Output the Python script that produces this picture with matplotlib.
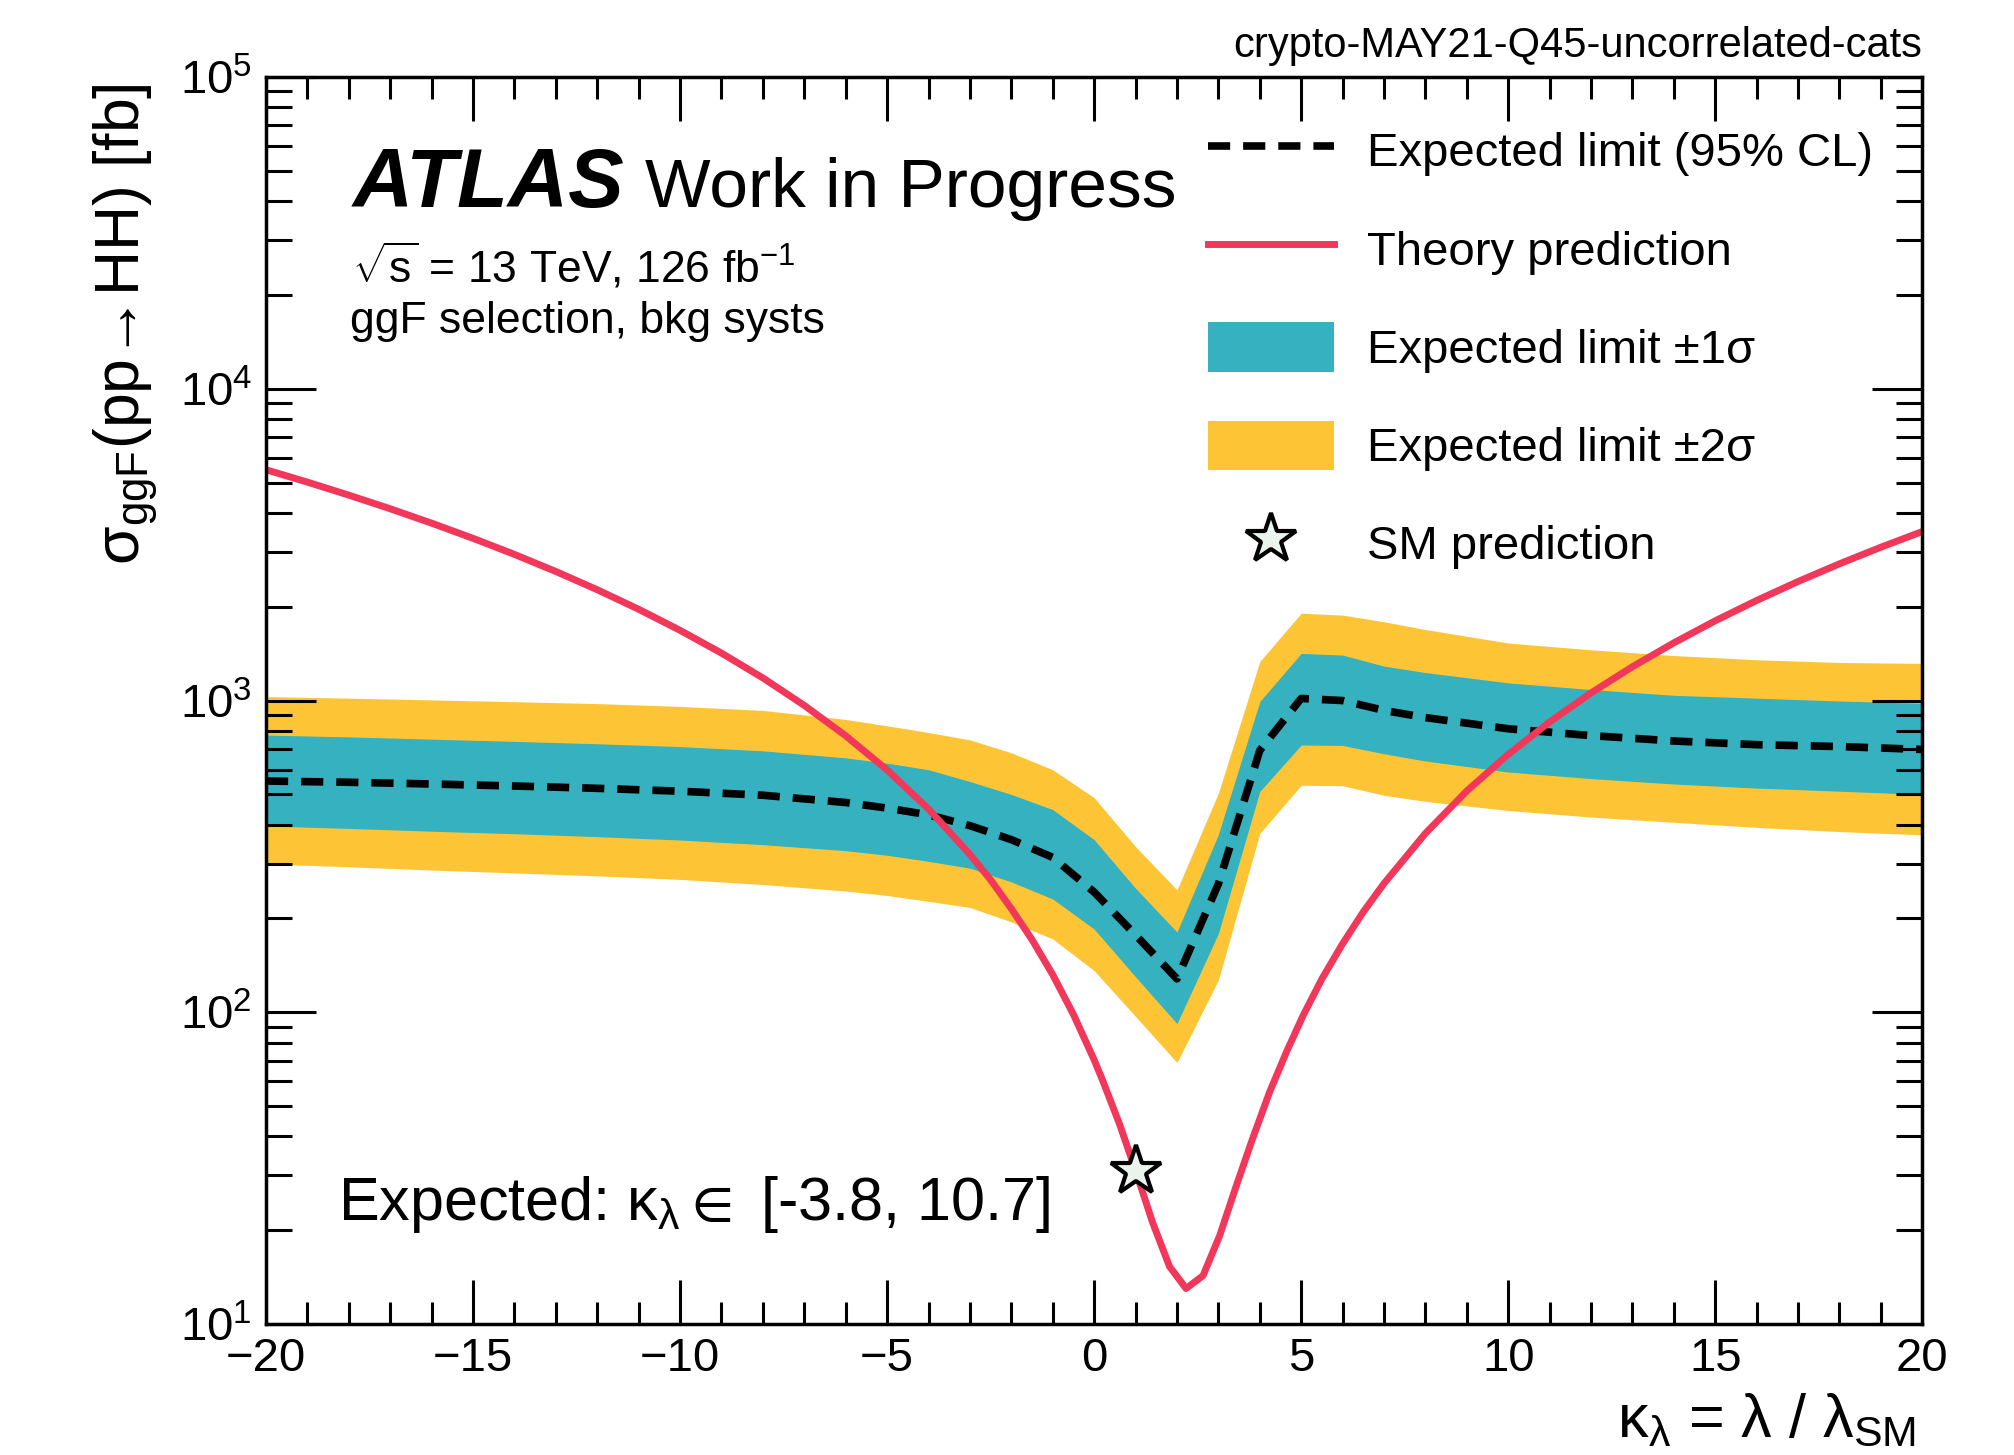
import matplotlib
matplotlib.use('Agg')
import matplotlib.pyplot as plt
from matplotlib.ticker import MultipleLocator, LogLocator

plt.rcParams['font.family'] = ['Liberation Sans', 'DejaVu Sans']
plt.rcParams['mathtext.fontset'] = 'custom'
plt.rcParams['mathtext.rm'] = 'Liberation Sans'
plt.rcParams['mathtext.it'] = 'Liberation Sans:italic'
plt.rcParams['mathtext.bf'] = 'Liberation Sans:bold'
plt.rcParams['mathtext.default'] = 'regular'

# limit scan
kappa = [-20, -18, -16, -14, -12, -10, -8, -6, -5, -4, -3, -2, -1, 0, 1, 2, 3, 4, 5, 6, 7, 8, 10, 12, 14, 16, 18, 20]
exp_limit = [552, 547, 540, 532, 523, 512, 497, 471, 452, 430, 397, 358, 314, 243, 177, 128, 258, 692, 1016, 1000,
             930, 882, 812, 772, 742, 722, 712, 697]
up_1s = [775, 765, 752, 740, 727, 712, 690, 655, 630, 600, 550, 500, 447, 358, 250, 181, 372, 993, 1417, 1400,
         1290, 1230, 1140, 1085, 1040, 1018, 997, 980]
dn_1s = [396, 389, 381, 374, 366, 357, 345, 330, 319, 305, 290, 262, 231, 185, 130, 92, 179, 511, 720, 718,
         675, 640, 590, 562, 540, 524, 512, 500]
up_2s = [1030, 1018, 1005, 992, 978, 958, 930, 870, 830, 790, 748, 680, 600, 488, 340, 247, 505, 1334, 1907, 1880,
         1790, 1690, 1530, 1455, 1395, 1352, 1325, 1316]
dn_2s = [299, 293, 286, 280, 274, 267, 257, 245, 237, 227, 217, 195, 172, 136, 97, 69, 127, 375, 535, 533,
         497, 475, 444, 423, 407, 392, 380, 371]

# theory curve
kappa_th = [-20, -19, -18, -17, -16, -15, -14, -13, -12, -11, -10, -9, -8, -7, -6, -5, -4, -3, -2.5, -2, -1.5, -1,
            -0.5, 0, 0.2, 0.61, 1.01, 1.41, 1.82, 2.22, 2.63, 3.03, 3.43, 3.84, 4.24, 4.65, 5.05, 5.5, 6, 6.5, 7,
            8, 9, 10, 11, 12, 13, 14, 15, 16, 17, 18, 19, 20]
xsec_th = [5502, 5021, 4561, 4124, 3708, 3315, 2944, 2595, 2268, 1963, 1680, 1420, 1182, 965, 771, 599, 449, 321,
           266, 215, 171, 132, 98.4, 70.4, 60.7, 43.9, 30.8, 21.2, 15.3, 13.0, 14.3, 19.2, 27.7, 39.8, 55.6, 74.9,
           97.9, 128, 166, 210, 259, 375, 513, 672, 854, 1058, 1284, 1532, 1803, 2095, 2410, 2746, 3105, 3486]

sm_kappa = [1.0]
sm_xsec = [31.05]

col_1s = '#36b1bf'
col_2s = '#fdc536'
col_th = '#f2385a'

fig = plt.figure(figsize=(20.15, 14.55), dpi=100)
ax = fig.add_axes([0.132, 0.090, 0.822, 0.857])

b2 = ax.fill_between(kappa, dn_2s, up_2s, color=col_2s, lw=0)
b1 = ax.fill_between(kappa, dn_1s, up_1s, color=col_1s, lw=0)
l_exp, = ax.plot(kappa, exp_limit, color='black', lw=5.5, ls=(0, (2.9, 1.7)))
l_th, = ax.plot(kappa_th, xsec_th, color=col_th, lw=5)
l_sm, = ax.plot(sm_kappa, sm_xsec, marker='*', ms=38, mfc='#eaf4ec', mec='black', mew=3, ls='none')

ax.set_yscale('log')
ax.set_xlim(-20, 20)
ax.set_ylim(10, 1e5)

ax.xaxis.set_major_locator(MultipleLocator(5))
ax.xaxis.set_minor_locator(MultipleLocator(1))
ax.yaxis.set_major_locator(LogLocator(base=10))
ax.yaxis.set_minor_locator(LogLocator(base=10, subs=range(2, 10)))

ax.tick_params(axis='x', which='major', length=32, width=2.2, direction='in', top=True, labelsize=34, pad=9)
ax.tick_params(axis='x', which='minor', length=16, width=2.2, direction='in', top=True)
ax.tick_params(axis='y', which='major', length=36, width=2.2, direction='in', right=True, labelsize=34, pad=10)
ax.tick_params(axis='y', which='minor', length=19, width=2.2, direction='in', right=True, labelleft=False)
for sp in ax.spines.values():
    sp.set_linewidth(2.5)

ax.set_ylabel(r'$\sigma_{ggF}$(pp→HH) [fb]', fontsize=45, loc='top')
ax.yaxis.set_label_coords(-0.064, 0.995)
ax.set_xlabel(r'$\kappa_{\lambda}$ = $\lambda$ / $\lambda_{SM}$', fontsize=44, loc='right')
ax.xaxis.set_label_coords(0.996, -0.055)

ax.text(0.0525, 0.896, 'ATLAS', transform=ax.transAxes, fontsize=60, fontweight='bold', fontstyle='italic')
ax.text(0.229, 0.896, 'Work in Progress', transform=ax.transAxes, fontsize=50)
ax.text(0.052, 0.835, r'$\sqrt{s}$ = 13 TeV, 126 fb$^{-1}$', transform=ax.transAxes, fontsize=32)
ax.text(0.051, 0.795, 'ggF selection, bkg systs', transform=ax.transAxes, fontsize=32)
ax.text(0.0435, 0.0834, r'Expected: $\kappa_{\lambda}\in$ [-3.8, 10.7]', transform=ax.transAxes, fontsize=44)

fig.text(0.954, 0.961, 'crypto-MAY21-Q45-uncorrelated-cats', ha='right', va='baseline', fontsize=30)

handles = [l_exp, l_th, b1, b2, l_sm]
labels = ['Expected limit (95% CL)', 'Theory prediction', 'Expected limit ±1σ', 'Expected limit ±2σ',
          'SM prediction']
ax.legend(handles, labels, loc='upper left', bbox_to_anchor=(0.569, 0.961), frameon=False, fontsize=34,
          handlelength=2.65, handleheight=1.23, labelspacing=1.01, handletextpad=0.7, borderpad=0,
          borderaxespad=0, numpoints=1)

fig.savefig('out.png', dpi=100)
